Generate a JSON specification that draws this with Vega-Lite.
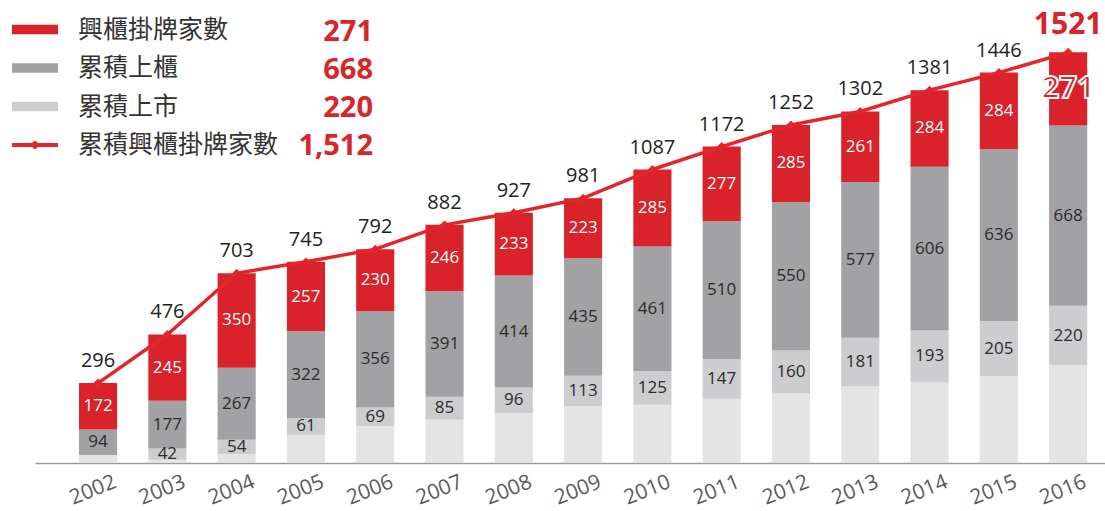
{
  "$schema": "https://vega.github.io/schema/vega-lite/v6.json",
  "width": 1070,
  "height": 459,
  "autosize": {"type": "none"},
  "padding": {"left": 35, "top": 4, "right": 0, "bottom": 48},
  "background": "white",
  "config": {
    "view": {"stroke": null},
    "font": "Open Sans",
    "axisY": {"disable": true},
    "axisX": {
      "title": null,
      "ticks": false,
      "domainColor": "#9a9a9a",
      "domainWidth": 1.5,
      "labelAngle": -22,
      "labelAlign": "center",
      "labelBaseline": "middle",
      "labelFont": "Open Sans",
      "labelFontSize": 21,
      "labelColor": "#5a5a5a",
      "labelPadding": 27,
      "labelOffset": -5
    }
  },
  "datasets": {
    "bars": [
      {"year": "2002", "series": "其他", "value": 30, "ord": 1},
      {"year": "2002", "series": "累積上櫃", "value": 94, "ord": 3},
      {"year": "2002", "series": "興櫃掛牌家數", "value": 172, "ord": 4},
      {"year": "2003", "series": "其他", "value": 12, "ord": 1},
      {"year": "2003", "series": "累積上市", "value": 42, "ord": 2},
      {"year": "2003", "series": "累積上櫃", "value": 177, "ord": 3},
      {"year": "2003", "series": "興櫃掛牌家數", "value": 245, "ord": 4},
      {"year": "2004", "series": "其他", "value": 32, "ord": 1},
      {"year": "2004", "series": "累積上市", "value": 54, "ord": 2},
      {"year": "2004", "series": "累積上櫃", "value": 267, "ord": 3},
      {"year": "2004", "series": "興櫃掛牌家數", "value": 350, "ord": 4},
      {"year": "2005", "series": "其他", "value": 105, "ord": 1},
      {"year": "2005", "series": "累積上市", "value": 61, "ord": 2},
      {"year": "2005", "series": "累積上櫃", "value": 322, "ord": 3},
      {"year": "2005", "series": "興櫃掛牌家數", "value": 257, "ord": 4},
      {"year": "2006", "series": "其他", "value": 137, "ord": 1},
      {"year": "2006", "series": "累積上市", "value": 69, "ord": 2},
      {"year": "2006", "series": "累積上櫃", "value": 356, "ord": 3},
      {"year": "2006", "series": "興櫃掛牌家數", "value": 230, "ord": 4},
      {"year": "2007", "series": "其他", "value": 160, "ord": 1},
      {"year": "2007", "series": "累積上市", "value": 85, "ord": 2},
      {"year": "2007", "series": "累積上櫃", "value": 391, "ord": 3},
      {"year": "2007", "series": "興櫃掛牌家數", "value": 246, "ord": 4},
      {"year": "2008", "series": "其他", "value": 184, "ord": 1},
      {"year": "2008", "series": "累積上市", "value": 96, "ord": 2},
      {"year": "2008", "series": "累積上櫃", "value": 414, "ord": 3},
      {"year": "2008", "series": "興櫃掛牌家數", "value": 233, "ord": 4},
      {"year": "2009", "series": "其他", "value": 210, "ord": 1},
      {"year": "2009", "series": "累積上市", "value": 113, "ord": 2},
      {"year": "2009", "series": "累積上櫃", "value": 435, "ord": 3},
      {"year": "2009", "series": "興櫃掛牌家數", "value": 223, "ord": 4},
      {"year": "2010", "series": "其他", "value": 216, "ord": 1},
      {"year": "2010", "series": "累積上市", "value": 125, "ord": 2},
      {"year": "2010", "series": "累積上櫃", "value": 461, "ord": 3},
      {"year": "2010", "series": "興櫃掛牌家數", "value": 285, "ord": 4},
      {"year": "2011", "series": "其他", "value": 238, "ord": 1},
      {"year": "2011", "series": "累積上市", "value": 147, "ord": 2},
      {"year": "2011", "series": "累積上櫃", "value": 510, "ord": 3},
      {"year": "2011", "series": "興櫃掛牌家數", "value": 277, "ord": 4},
      {"year": "2012", "series": "其他", "value": 257, "ord": 1},
      {"year": "2012", "series": "累積上市", "value": 160, "ord": 2},
      {"year": "2012", "series": "累積上櫃", "value": 550, "ord": 3},
      {"year": "2012", "series": "興櫃掛牌家數", "value": 285, "ord": 4},
      {"year": "2013", "series": "其他", "value": 283, "ord": 1},
      {"year": "2013", "series": "累積上市", "value": 181, "ord": 2},
      {"year": "2013", "series": "累積上櫃", "value": 577, "ord": 3},
      {"year": "2013", "series": "興櫃掛牌家數", "value": 261, "ord": 4},
      {"year": "2014", "series": "其他", "value": 298, "ord": 1},
      {"year": "2014", "series": "累積上市", "value": 193, "ord": 2},
      {"year": "2014", "series": "累積上櫃", "value": 606, "ord": 3},
      {"year": "2014", "series": "興櫃掛牌家數", "value": 284, "ord": 4},
      {"year": "2015", "series": "其他", "value": 321, "ord": 1},
      {"year": "2015", "series": "累積上市", "value": 205, "ord": 2},
      {"year": "2015", "series": "累積上櫃", "value": 636, "ord": 3},
      {"year": "2015", "series": "興櫃掛牌家數", "value": 284, "ord": 4},
      {"year": "2016", "series": "其他", "value": 362, "ord": 1},
      {"year": "2016", "series": "累積上市", "value": 220, "ord": 2},
      {"year": "2016", "series": "累積上櫃", "value": 668, "ord": 3},
      {"year": "2016", "series": "興櫃掛牌家數", "value": 271, "ord": 4}
    ],
    "totals": [
      {"year": "2002", "total": 296},
      {"year": "2003", "total": 476},
      {"year": "2004", "total": 703},
      {"year": "2005", "total": 745},
      {"year": "2006", "total": 792},
      {"year": "2007", "total": 882},
      {"year": "2008", "total": 927},
      {"year": "2009", "total": 981},
      {"year": "2010", "total": 1087},
      {"year": "2011", "total": 1172},
      {"year": "2012", "total": 1252},
      {"year": "2013", "total": 1302},
      {"year": "2014", "total": 1381},
      {"year": "2015", "total": 1446},
      {"year": "2016", "total": 1521}
    ],
    "nums": [
      {"num": "271"},
      {"num": "668"},
      {"num": "220"},
      {"num": "1,512"}
    ]
  },
  "layer": [
    {
      "data": {"name": "bars"},
      "mark": {"type": "bar"},
      "encoding": {
        "x": {
          "field": "year",
          "type": "ordinal",
          "title": null,
          "scale": {
            "domain": ["2002","2003","2004","2005","2006","2007","2008","2009","2010","2011","2012","2013","2014","2015","2016"],
            "paddingInner": 0.45,
            "paddingOuter": 0.446,
            "align": 0.712
          }
        },
        "y": {
          "field": "value",
          "type": "quantitative",
          "stack": "zero",
          "scale": {"domain": [0, 1700], "nice": false, "zero": true}
        },
        "order": {"field": "ord", "type": "quantitative", "sort": "ascending"},
        "color": {
          "field": "series",
          "type": "nominal",
          "scale": {
            "domain": ["興櫃掛牌家數", "累積上櫃", "累積上市", "累積興櫃掛牌家數", "其他"],
            "range": ["#d9222a", "#a2a2a4", "#cdcdcf", "#e2262b", "#e4e4e5"]
          },
          "legend": {
            "values": ["興櫃掛牌家數", "累積上櫃", "累積上市", "累積興櫃掛牌家數"],
            "title": null,
            "orient": "none",
            "legendX": -23,
            "legendY": 15.5,
            "direction": "vertical",
            "padding": 0,
            "symbolSize": 2116,
            "symbolStrokeWidth": 0,
            "labelFont": "Noto Sans CJK TC",
            "labelFontSize": 25,
            "labelColor": "#333333",
            "labelOffset": 20,
            "labelLimit": 400,
            "clipHeight": 20,
            "rowPadding": 13.5,
            "encode": {
              "symbols": {
                "update": {
                  "shape": {"signal": "datum.value === '累積興櫃掛牌家數' ? 'M-1,-0.09H1V0.09H-1Z M-0.24,0L0,-0.2L0.24,0L0,0.2Z' : 'M-1,-0.21H1V0.21H-1Z'"},
                  "fill": {"signal": "datum.value === '累積上櫃' ? '#818285' : datum.value === '累積上市' ? '#a9aaad' : datum.value === '累積興櫃掛牌家數' ? '#e2262b' : '#d7262c'"},
                  "opacity": {"value": 1},
                  "strokeWidth": {"value": 0}
                }
              }
            }
          }
        }
      }
    },
    {
      "data": {"name": "bars"},
      "transform": [
        {"stack": "value", "groupby": ["year"], "sort": [{"field": "ord", "order": "ascending"}], "as": ["v0", "v1"]},
        {"calculate": "(datum.v0 + datum.v1) / 2", "as": "mid"},
        {"filter": "datum.series === '累積上櫃' || datum.series === '累積上市'"}
      ],
      "mark": {"type": "text", "font": "Open Sans", "fontSize": 17, "color": "#2b2b2b", "baseline": "middle"},
      "encoding": {
        "x": {"field": "year", "type": "ordinal", "title": null},
        "y": {"field": "mid", "type": "quantitative"},
        "text": {"field": "value", "type": "quantitative"}
      }
    },
    {
      "data": {"name": "bars"},
      "transform": [
        {"stack": "value", "groupby": ["year"], "sort": [{"field": "ord", "order": "ascending"}], "as": ["v0", "v1"]},
        {"calculate": "(datum.v0 + datum.v1) / 2", "as": "mid"},
        {"filter": "datum.series === '興櫃掛牌家數' && datum.year !== '2016'"}
      ],
      "mark": {"type": "text", "font": "Open Sans", "fontSize": 17, "color": "#ffffff", "baseline": "middle"},
      "encoding": {
        "x": {"field": "year", "type": "ordinal", "title": null},
        "y": {"field": "mid", "type": "quantitative"},
        "text": {"field": "value", "type": "quantitative"}
      }
    },
    {
      "data": {"name": "bars"},
      "transform": [
        {"stack": "value", "groupby": ["year"], "sort": [{"field": "ord", "order": "ascending"}], "as": ["v0", "v1"]},
        {"calculate": "(datum.v0 + datum.v1) / 2", "as": "mid"},
        {"filter": "datum.series === '興櫃掛牌家數' && datum.year === '2016'"}
      ],
      "mark": {"type": "text", "font": "Open Sans", "fontSize": 31, "fontWeight": "bold", "fill": "#d9222a", "stroke": "#ffffff", "strokeWidth": 2, "baseline": "middle"},
      "encoding": {
        "x": {"field": "year", "type": "ordinal", "title": null},
        "y": {"field": "mid", "type": "quantitative"},
        "text": {"field": "value", "type": "quantitative"}
      }
    },
    {
      "data": {"name": "totals"},
      "mark": {"type": "line", "strokeWidth": 3.5, "strokeCap": "round", "strokeJoin": "round"},
      "encoding": {
        "x": {"field": "year", "type": "ordinal", "title": null},
        "y": {"field": "total", "type": "quantitative"},
        "color": {"datum": "累積興櫃掛牌家數"}
      }
    },
    {
      "data": {"name": "totals"},
      "mark": {"type": "point", "shape": "diamond", "filled": true, "size": 80, "color": "#e2262b", "opacity": 1},
      "encoding": {
        "x": {"field": "year", "type": "ordinal", "title": null},
        "y": {"field": "total", "type": "quantitative"}
      }
    },
    {
      "data": {"name": "totals"},
      "transform": [{"filter": "datum.year !== '2016'"}],
      "mark": {"type": "text", "font": "Open Sans", "fontSize": 20, "color": "#222222", "baseline": "middle", "dy": -22},
      "encoding": {
        "x": {"field": "year", "type": "ordinal", "title": null},
        "y": {"field": "total", "type": "quantitative"},
        "text": {"field": "total", "type": "quantitative", "format": "d"}
      }
    },
    {
      "data": {"name": "totals"},
      "transform": [{"filter": "datum.year === '2016'"}],
      "mark": {"type": "text", "font": "Open Sans", "fontSize": 30, "fontWeight": "bold", "color": "#d9222a", "baseline": "middle", "dy": -27},
      "encoding": {
        "x": {"field": "year", "type": "ordinal", "title": null},
        "y": {"field": "total", "type": "quantitative"},
        "text": {"field": "total", "type": "quantitative", "format": "d"}
      }
    },
    {
      "data": {"name": "nums"},
      "mark": {"type": "point", "opacity": 0, "size": 0},
      "encoding": {
        "shape": {
          "field": "num",
          "type": "nominal",
          "scale": {"domain": ["271", "668", "220", "1,512"], "range": ["circle", "circle", "circle", "circle"]},
          "legend": {
            "title": null,
            "orient": "none",
            "legendX": 309,
            "legendY": 18,
            "direction": "vertical",
            "padding": 0,
            "symbolSize": 0,
            "symbolStrokeWidth": 0,
            "symbolOpacity": 0,
            "labelAlign": "right",
            "labelOffset": 0,
            "labelFont": "Open Sans",
            "labelFontSize": 29,
            "labelFontWeight": "bold",
            "labelColor": "#d7262c",
            "clipHeight": 20,
            "rowPadding": 9
          }
        }
      }
    }
  ]
}
